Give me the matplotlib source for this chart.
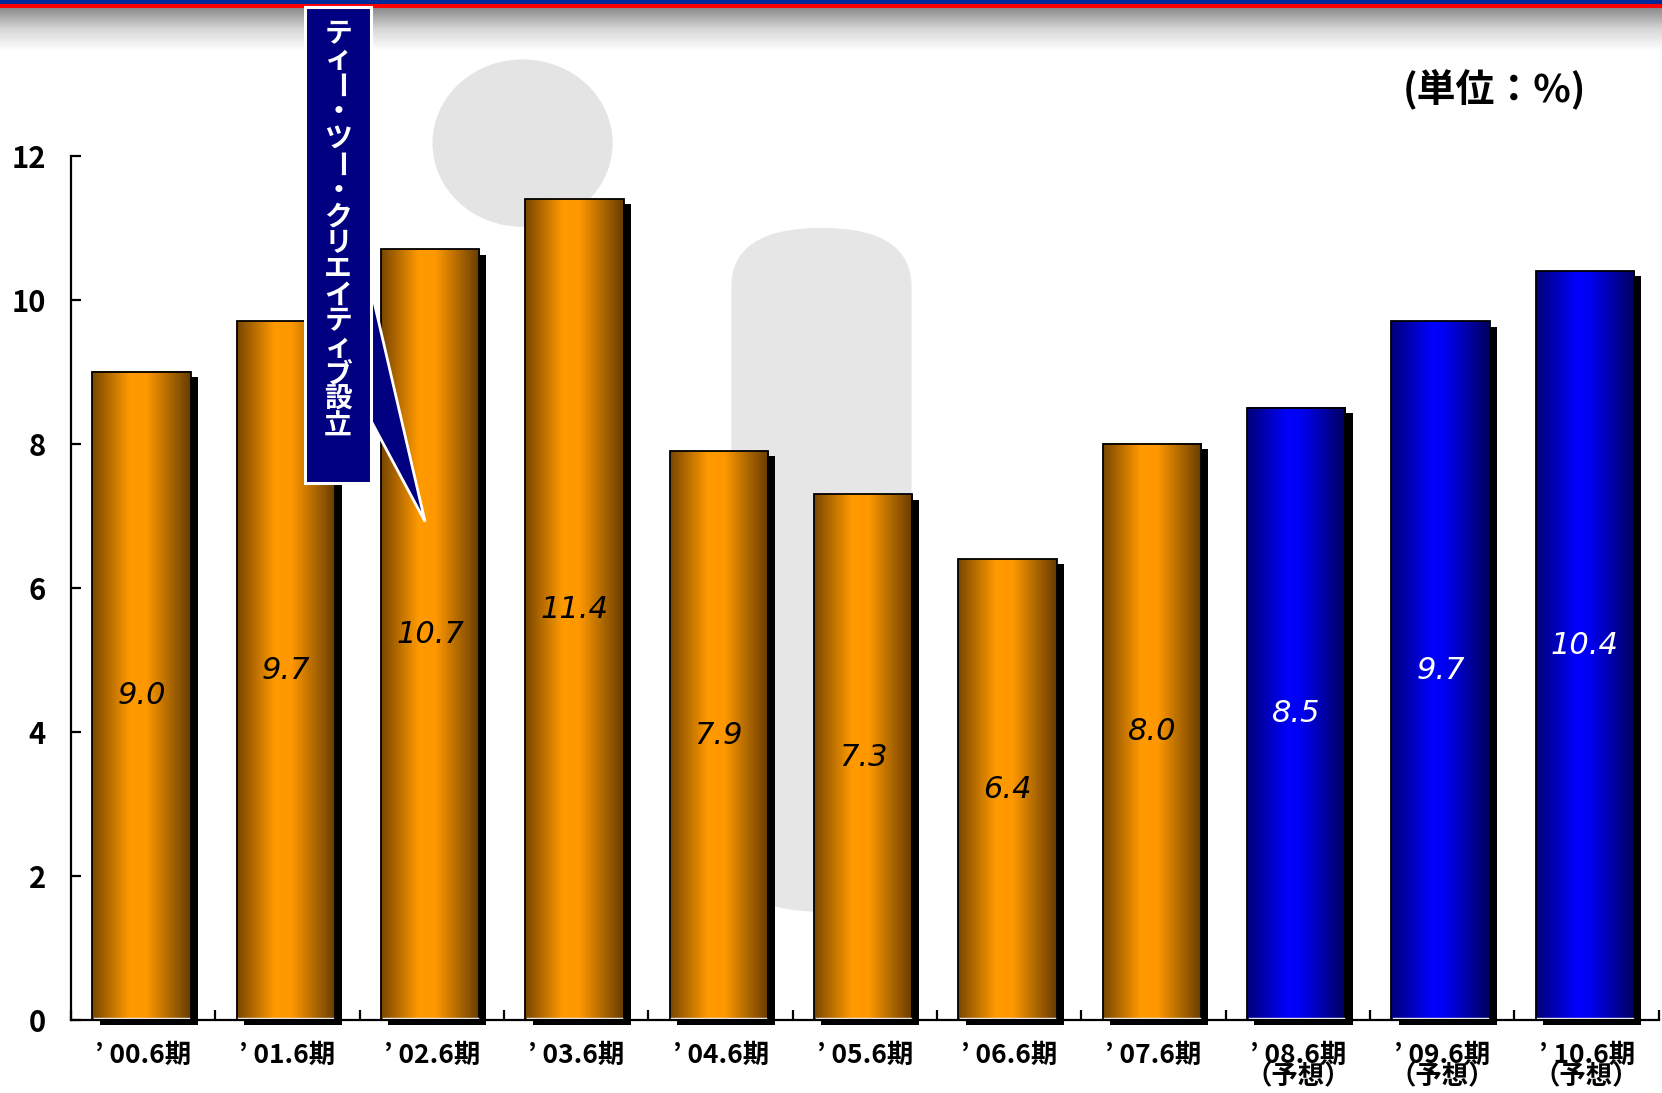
import numpy as np
import matplotlib
matplotlib.use("Agg")
import matplotlib.pyplot as plt
from matplotlib.colors import LinearSegmentedColormap
from matplotlib.patches import Rectangle, Polygon, Ellipse, FancyBboxPatch

plt.rcParams['font.family'] = ['Noto Sans CJK JP', 'DejaVu Sans']

# data
periods = ["’ 00.6期", "’ 01.6期", "’ 02.6期", "’ 03.6期", "’ 04.6期", "’ 05.6期",
           "’ 06.6期", "’ 07.6期", "’ 08.6期\n（予想）", "’ 09.6期\n（予想）", "’ 10.6期\n（予想）"]
values = [9.0, 9.7, 10.7, 11.4, 7.9, 7.3, 6.4, 8.0, 8.5, 9.7, 10.4]
forecast = [False] * 8 + [True] * 3
callout = "ティー・ツー・クリエイティブ設立"
unit_label = "(単位：%)"

W, H = 1568.0, 1031.0   # coords measured on the reference
fx = lambda x: x / W
fy = lambda y: 1 - y / H

fig = plt.figure(figsize=(16.62, 10.93), dpi=100)
fig.patch.set_facecolor("white")

# background: header band + faint logo watermark
bg = fig.add_axes([0, 0, 1, 1], zorder=-1)
bg.set_xlim(0, 1); bg.set_ylim(0, 1); bg.axis("off")
grad = np.linspace(0, 1, 64).reshape(-1, 1)
band = LinearSegmentedColormap.from_list("band", ["#8c8c8c", "#d8d8d8", "#ffffff"])
bg.imshow(grad, cmap=band, aspect="auto", extent=(0, 1, fy(48), fy(8)))
bg.add_patch(Rectangle((0, fy(4)), 1, 4 / H, color="#002a9a", lw=0))
bg.add_patch(Rectangle((0, fy(8)), 1, 4 / H, color="#ff0000", lw=0))
bg.add_patch(Ellipse((fx(493), fy(135)), 170 / W, 158 / H, color="#e4e4e4", lw=0))
bg.add_patch(FancyBboxPatch((fx(690), fy(860)), 170 / W, 645 / H,
                            boxstyle="round,pad=0,rounding_size=0.054",
                            color="#e6e6e6", lw=0))
bg.set_xlim(0, 1); bg.set_ylim(0, 1)

ax = fig.add_axes([fx(67), fy(962), fx(1565) - fx(67), fy(147) - fy(962)])
ax.patch.set_alpha(0)

orange = LinearSegmentedColormap.from_list(
    "org", [(0, "#7a4600"), (0.38, "#ff9a00"), (0.55, "#ff9800"), (1, "#663c00")])
blue = LinearSegmentedColormap.from_list(
    "blu", [(0, "#00007a"), (0.42, "#0000ff"), (0.55, "#0000f0"), (1, "#00005e")])

bw = 0.68
dx, dy = 0.05, 0.075
xg = np.linspace(0, 1, 200).reshape(1, -1)
for i, (v, fc) in enumerate(zip(values, forecast)):
    x0 = i - bw / 2 - 0.012
    ax.add_patch(Rectangle((x0 + dx, -dy), bw, v, color="black", lw=0,
                           zorder=2, clip_on=False))
    ax.imshow(xg, cmap=blue if fc else orange, aspect="auto",
              extent=(x0, x0 + bw, 0, v), zorder=3)
    ax.add_patch(Rectangle((x0, 0), bw, v, fill=False, ec="black", lw=1.3, zorder=4))
    ax.plot([x0 + 0.01, x0 + bw - 0.01], [0.03, 0.03], color="white", lw=1, zorder=4)
    ax.text(i - 0.012, v / 2, f"{v:.1f}", ha="center", va="center",
            fontsize=22, style="italic", family="DejaVu Sans",
            color="white" if fc else "black", zorder=5)

ax.set_xlim(-0.5, 10.5)
ax.set_ylim(0, 12)
for s in ["top", "right"]:
    ax.spines[s].set_visible(False)
for s in ["left", "bottom"]:
    ax.spines[s].set_linewidth(1.6)
    ax.spines[s].set_zorder(6)

ax.set_yticks(range(0, 13, 2))
ax.set_yticklabels([str(t) for t in range(0, 13, 2)], fontsize=21, fontweight="bold")
ax.tick_params(axis="y", direction="in", length=7, width=1.6, pad=18)
ax.set_xticks(range(len(periods)))
ax.set_xticklabels(periods, fontsize=19, fontweight="bold", linespacing=0.72, va="top")
ax.tick_params(axis="x", which="major", length=0, pad=16)
ax.set_xticks(np.arange(-0.5, 11, 1), minor=True)
ax.tick_params(axis="x", which="minor", direction="in", length=7, width=1.6)

# unit label
fig.text(fx(1410), fy(85), unit_label, ha="center", va="center",
         fontsize=28, fontweight="bold")

# callout
pointer = Polygon([(fx(349), fy(268)), (fx(401), fy(492)), (fx(349), fy(395))],
                  closed=True, fc="#000080", ec="white", lw=2,
                  transform=fig.transFigure, figure=fig)
fig.patches.append(pointer)
box = Rectangle((fx(288), fy(456)), fx(350) - fx(288), fy(7) - fy(456),
                fc="#000080", ec="white", lw=2.2, transform=fig.transFigure, figure=fig)
fig.patches.append(box)
step = (402 - 32) / (len(callout) - 1)
for k, ch in enumerate(callout):
    fig.text(fx(319), fy(32 + k * step), ch, ha="center", va="center",
             fontsize=20, fontweight="bold", color="white",
             rotation=-90 if ch == "ー" else 0)

fig.savefig("out.png", dpi=100)
